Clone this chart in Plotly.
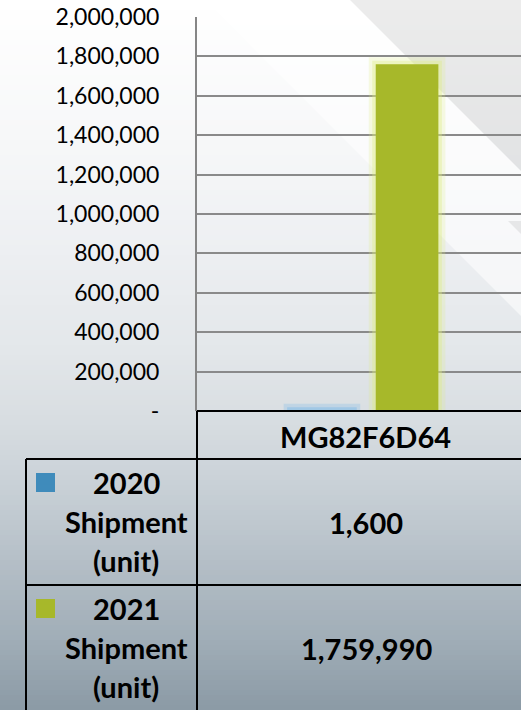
import plotly.graph_objects as go

# ---------------- data ----------------
categories = ["MG82F6D64"]
series_names = ["2020 Shipment (unit)", "2021 Shipment (unit)"]
series_values = [[1600], [1759990]]
series_colors = ["#3F8BBB", "#A7B82A"]
glow_colors = ["rgba(130,188,232,0.75)", "rgba(222,236,130,0.55)"]
tick_values = [0, 200000, 400000, 600000, 800000, 1000000, 1200000,
               1400000, 1600000, 1800000, 2000000]
tick_labels = ["-", "200,000", "400,000", "600,000", "800,000", "1,000,000",
               "1,200,000", "1,400,000", "1,600,000", "1,800,000", "2,000,000"]

# ---------------- layout geometry (pixels) ----------------
W, H = 521, 710
L, T, B = 197, 17, 411          # plot area left / top / bottom
CAT_PX = 335                    # pixel width of one category band
BAR_PX = 62.6
CENTER_SHIFT = 0.127            # bar centre offset from category centre


def px(x):
    return (x - L) / (W - L)


def py(y):
    return (B - y) / (B - T)


fig = go.Figure()

bar_w = BAR_PX / CAT_PX
centers = [-CENTER_SHIFT, CENTER_SHIFT]

# glow layers + bars
for i, (name, vals) in enumerate(zip(series_names, series_values)):
    off = centers[i] - bar_w / 2
    for lw, op in [(14, 0.4), (7, 0.65)]:
        fig.add_trace(go.Bar(
            x=categories, y=vals, width=bar_w, offset=off,
            marker=dict(color=glow_colors[i], opacity=op,
                        line=dict(color=glow_colors[i], width=lw)),
            showlegend=False, hoverinfo="skip"))
    fig.add_trace(go.Bar(
        x=categories, y=vals, width=bar_w, offset=off, name=name,
        marker=dict(color=series_colors[i], line=dict(width=0)),
        showlegend=False))

shapes = []

# background vertical gradient
stops = [(0, (255, 255, 255)), (150, (246, 247, 248)), (250, (237, 239, 242)),
         (350, (227, 231, 234)), (420, (216, 221, 225)), (480, (202, 210, 216)),
         (560, (181, 191, 199)), (640, (160, 173, 183)), (710, (139, 154, 165))]


def col_at(y):
    for (y0, c0), (y1, c1) in zip(stops[:-1], stops[1:]):
        if y0 <= y <= y1:
            t = (y - y0) / (y1 - y0)
            return tuple(round(a + (b - a) * t) for a, b in zip(c0, c1))
    return stops[-1][1]


step = 5
for y0 in range(0, H, step):
    c = col_at(y0 + step / 2)
    shapes.append(dict(type="rect", xref="paper", yref="paper",
                       x0=px(0), x1=px(W), y0=py(y0 + step + 0.5), y1=py(y0),
                       fillcolor="rgb(%d,%d,%d)" % c, line=dict(width=0),
                       layer="below"))

# decorative diagonal bands
def poly(points, color):
    path = "M " + " L ".join("%f,%f" % (px(x), py(y)) for x, y in points) + " Z"
    shapes.append(dict(type="path", xref="paper", yref="paper", path=path,
                       fillcolor=color, line=dict(width=0), layer="below"))


poly([(205, 0), (350, 0), (700, 350), (555, 350)], "rgba(255,255,255,0.55)")
poly([(350, 0), (521, 0), (521, 171)], "rgba(0,0,0,0.075)")
poly([(508, 221), (521, 221), (521, 234)], "rgba(0,0,0,0.07)")

# data table lines
def line(x0, y0, x1, y1, color="#000000", w=2):
    shapes.append(dict(type="line", xref="paper", yref="paper",
                       x0=px(x0), y0=py(y0), x1=px(x1), y1=py(y1),
                       line=dict(color=color, width=w), layer="above"))


line(L, B, W + 5, B)
line(26, 459, W + 5, 459)
line(26, 585, W + 5, 585)
line(L, B, L, H + 5)
line(26, 459, 26, H + 5)

# legend keys
key_tops = [473, 599]
for i, c in enumerate(series_colors):
    shapes.append(dict(type="rect", xref="paper", yref="paper",
                       x0=px(36), x1=px(55), y0=py(key_tops[i] + 19),
                       y1=py(key_tops[i]), fillcolor=c, line=dict(width=0),
                       layer="above"))

annotations = []
bold = dict(family="Lato", size=29, color="#000000", weight="bold")


def label(x, y, text):
    annotations.append(dict(xref="paper", yref="paper", x=px(x), y=py(y),
                            text=text, showarrow=False, xanchor="center",
                            yanchor="middle", font=bold))


label(365, 436, categories[0])
row_lines = [[482, 521, 560], [608, 647, 686]]
row_value_y = [522, 648]
for i, name in enumerate(series_names):
    parts = name.split(" ")
    for txt, yy in zip(parts, row_lines[i]):
        label(126, yy, txt)
    label(366, row_value_y[i], f"{series_values[i][0]:,}")

fig.update_layout(
    width=W, height=H, autosize=False,
    margin=dict(l=L, r=0, t=T, b=H - B, pad=0),
    paper_bgcolor="#FFFFFF", plot_bgcolor="rgba(0,0,0,0)",
    barmode="overlay", showlegend=False,
    shapes=shapes, annotations=annotations,
    font=dict(family="Lato", color="#000000"),
    xaxis=dict(range=[-0.5, -0.5 + (W - L) / CAT_PX], showticklabels=False,
               showgrid=False, zeroline=False, showline=False, fixedrange=True),
    yaxis=dict(range=[0, 2000000], tickvals=tick_values, ticktext=tick_labels,
               showgrid=True, gridcolor="#8A8A8A", gridwidth=2,
               zeroline=False, showline=True, linecolor="#868686",
               linewidth=2, ticks="", ticklabelstandoff=31,
               tickfont=dict(family="Lato", size=23, color="#000000"),
               fixedrange=True),
)

fig.write_html(
    "out.html",
    config={"displayModeBar": False},
    post_script="document.body.style.margin='0';"
                "document.body.style.overflow='hidden';",
)
